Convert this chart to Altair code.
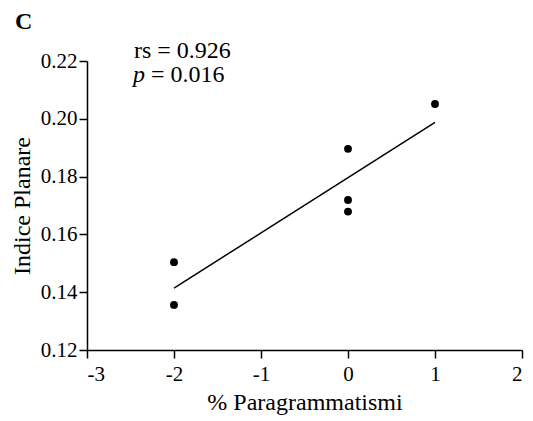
import altair as alt
import pandas as pd

# Measurements: % paragrammatisms vs planar index
paragrammatismi = [-2, -2, 0, 0, 0, 1]
indice_planare = [0.1504, 0.1356, 0.1896, 0.1719, 0.1679, 0.2051]

x_ticks = [-3, -2, -1, 0, 1, 2]
y_ticks = [0.12, 0.14, 0.16, 0.18, 0.20, 0.22]

rs_label = "rs = 0.926"
p_label = "= 0.016"
panel_label = "C"

df = pd.DataFrame({"x": paragrammatismi, "y": indice_planare})

FONT = "Liberation Serif"

x_enc = alt.X(
    "x:Q",
    scale=alt.Scale(domain=[-3, 2], nice=False, zero=False),
    axis=alt.Axis(
        title="% Paragrammatismi",
        values=x_ticks,
        labelExpr="datum.value < 0 ? '-' + abs(datum.value) : '' + datum.value",
        labelFont=FONT,
        titleFont=FONT,
        labelPadding=5,
        titlePadding=6,
    ),
)
y_enc = alt.Y(
    "y:Q",
    scale=alt.Scale(domain=[0.12, 0.22], nice=False, zero=False),
    axis=alt.Axis(
        title="Indice Planare",
        values=y_ticks,
        format=".2f",
        labelFont=FONT,
        titleFont=FONT,
        labelPadding=2,
        titlePadding=6,
    ),
)

points = alt.Chart(df).mark_point(
    filled=True, color="black", size=62, opacity=1, shape="circle"
).encode(x=x_enc, y=y_enc)

fit = alt.Chart(df).transform_regression("x", "y").mark_line(
    color="black", strokeWidth=1.5
).encode(x="x:Q", y="y:Q")


def label(text, px, py, size=24, style="normal", weight="normal"):
    """A single piece of annotation text placed in plot-area pixels."""
    return alt.Chart(pd.DataFrame({"t": [text]})).mark_text(
        font=FONT, fontSize=size, fontStyle=style, fontWeight=weight,
        align="left", baseline="alphabetic", color="black",
    ).encode(text="t:N", x=alt.value(px), y=alt.value(py))


rs_text = label(rs_label, 47, -3)
p_text = label("p", 46, 21, style="italic")
p_value = label(p_label, 64, 21)
panel = label(panel_label, -72, -32, size=24, weight="bold")

chart = (
    alt.layer(fit, points, rs_text, p_text, p_value, panel)
    .properties(
        width=435,
        height=289,
        autosize=alt.AutoSizeParams(type="none"),
        padding={"left": 87, "top": 61, "right": 11, "bottom": 71},
        background="white",
    )
    .configure_view(stroke=None)
    .configure_axis(
        grid=False,
        domainColor="black",
        domainWidth=1.5,
        tickColor="black",
        tickWidth=1.5,
        tickSize=8,
        labelFont=FONT,
        labelFontSize=21,
        labelColor="black",
        titleFont=FONT,
        titleFontSize=24,
        titleFontWeight="normal",
        titleColor="black",
    )
)

chart.save("out.html", embed_options={"renderer": "svg", "actions": False})
